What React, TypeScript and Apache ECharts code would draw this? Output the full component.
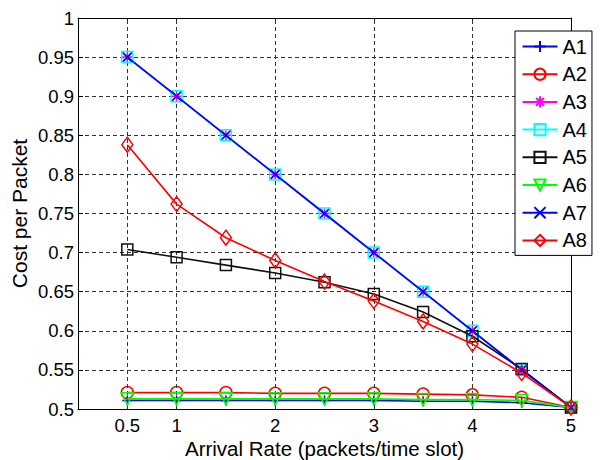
import React, { useEffect, useRef } from "react";
import * as echarts from "echarts";

const xValues = [0.5, 1, 1.5, 2, 2.5, 3, 3.5, 4, 4.5, 5];
const xTickLabels = [0.5, 1, 2, 3, 4, 5];
const xGridLines = [0.5, 1, 2, 3, 4];

const A1 = [0.511, 0.511, 0.511, 0.511, 0.511, 0.511, 0.510, 0.510, 0.508, 0.502];
const A2 = [0.521, 0.521, 0.521, 0.520, 0.520, 0.520, 0.519, 0.518, 0.515, 0.502];
const A3 = [0.95, 0.9, 0.85, 0.8, 0.75, 0.7, 0.65, 0.6, 0.55, 0.502];
const A4 = [0.95, 0.9, 0.85, 0.8, 0.75, 0.7, 0.65, 0.6, 0.55, 0.502];
const A5 = [0.704, 0.694, 0.684, 0.674, 0.662, 0.647, 0.624, 0.593, 0.551, 0.502];
const A6 = [0.513, 0.513, 0.513, 0.513, 0.513, 0.513, 0.512, 0.512, 0.511, 0.502];
const A7 = [0.95, 0.9, 0.85, 0.8, 0.75, 0.7, 0.65, 0.6, 0.55, 0.502];
const A8 = [0.838, 0.762, 0.719, 0.690, 0.663, 0.638, 0.612, 0.583, 0.546, 0.502];

const seriesNames = ["A1", "A2", "A3", "A4", "A5", "A6", "A7", "A8"];
const seriesData = [A1, A2, A3, A4, A5, A6, A7, A8];

const PLUS = "path://M5,0L5,10M0,5L10,5";
const CROSS = "path://M0,0L10,10M10,0L0,10";
const STAR = "path://M5,0L5,10M0,5L10,5M1.5,1.5L8.5,8.5M8.5,1.5L1.5,8.5";

const styles = [
  { color: "#0000ff", symbol: PLUS, size: 10, rotate: 0 },
  { color: "#ff0000", symbol: "circle", size: 12, rotate: 0 },
  { color: "#ff00ff", symbol: STAR, size: 10, rotate: 0 },
  { color: "#00ffff", symbol: "rect", size: 11, rotate: 0 },
  { color: "#111111", symbol: "rect", size: 11, rotate: 0 },
  { color: "#00ff00", symbol: "triangle", size: 12, rotate: 180 },
  { color: "#0000ff", symbol: CROSS, size: 9, rotate: 0 },
  { color: "#ff0000", symbol: "diamond", size: [11, 15], rotate: 0 },
];

const FONT = "Liberation Sans, Arial, sans-serif";

export default function App() {
  const ref = useRef<HTMLDivElement>(null);
  useEffect(() => {
    if (!ref.current) return;
    const chart = echarts.init(ref.current, null, { renderer: "svg" });
    const gridLine = { color: "#333", type: [4, 3], width: 1 };
    const series: any[] = seriesNames.map((name, i) => ({
      name,
      type: "line",
      data: xValues.map((x, j) => [x, seriesData[i][j]]),
      symbol: styles[i].symbol,
      symbolSize: styles[i].size,
      symbolRotate: styles[i].rotate,
      showAllSymbol: true,
      itemStyle: {
        color: "transparent",
        borderColor: styles[i].color,
        borderWidth: 1.5,
      },
      lineStyle: { color: styles[i].color, width: 1.6 },
      emphasis: { disabled: true },
      z: 3 + i,
    }));
    series.push({
      name: "grid",
      type: "line",
      data: [],
      silent: true,
      z: 1,
      markLine: {
        silent: true,
        symbol: ["none", "none"],
        label: { show: false },
        lineStyle: gridLine,
        data: xGridLines.map((v) => ({ xAxis: v })),
        animation: false,
      },
    });
    const tickCommon = { inside: true, length: 5, lineStyle: { color: "#000" } };
    chart.setOption({
      animation: false,
      backgroundColor: "#fff",
      textStyle: { fontFamily: FONT },
      grid: { left: 78, right: 39, top: 18, bottom: 51, show: false, containLabel: false, outerBoundsMode: "none" },
      legend: {
        data: seriesNames,
        orient: "vertical",
        left: 515,
        top: 31,
        padding: [5.5, 5, 5, 6.5],
        itemWidth: 35,
        itemHeight: 14,
        itemGap: 7.7,
        borderColor: "#000",
        borderWidth: 1,
        backgroundColor: "#fff",
        textStyle: { fontSize: 20, color: "#000", fontFamily: FONT },
        z: 20,
      },
      xAxis: [
        {
          type: "value",
          min: 0,
          max: 5,
          interval: 0.5,
          name: "Arrival Rate (packets/time slot)",
          nameLocation: "middle",
          nameGap: 29,
          nameMoveOverlap: false,
          nameTextStyle: { fontSize: 20.5, color: "#000", fontFamily: FONT },
          axisLine: { show: true, lineStyle: { color: "#000", width: 1 } },
          axisTick: { ...tickCommon, customValues: xTickLabels },
          axisLabel: { customValues: xTickLabels, fontSize: 18.5, color: "#000", margin: 7, fontFamily: FONT },
          splitLine: { show: false },
        },
        {
          type: "value",
          position: "top",
          min: 0,
          max: 5,
          interval: 0.5,
          axisLine: { show: true, onZero: false, lineStyle: { color: "#000", width: 1 } },
          axisTick: { ...tickCommon, customValues: xTickLabels },
          axisLabel: { show: false },
          splitLine: { show: false },
        },
      ],
      yAxis: [
        {
          type: "value",
          min: 0.5,
          max: 1,
          interval: 0.05,
          name: "Cost per Packet",
          nameLocation: "middle",
          nameGap: 48,
          nameMoveOverlap: false,
          nameTextStyle: { fontSize: 21, color: "#000", fontFamily: FONT },
          axisLine: { show: true, lineStyle: { color: "#000", width: 1 } },
          axisTick: tickCommon,
          axisLabel: { fontSize: 18.5, color: "#000", margin: 4, fontFamily: FONT },
          splitLine: { show: true, lineStyle: gridLine },
        },
        {
          type: "value",
          position: "right",
          min: 0.5,
          max: 1,
          interval: 0.05,
          axisLine: { show: true, onZero: false, lineStyle: { color: "#000", width: 1 } },
          axisTick: tickCommon,
          axisLabel: { show: false },
          splitLine: { show: false },
        },
      ],
      series,
    });
    return () => chart.dispose();
  }, []);
  return <div ref={ref} style={{ width: 610, height: 460, position: "absolute", left: 0, top: 0 }} />;
}
